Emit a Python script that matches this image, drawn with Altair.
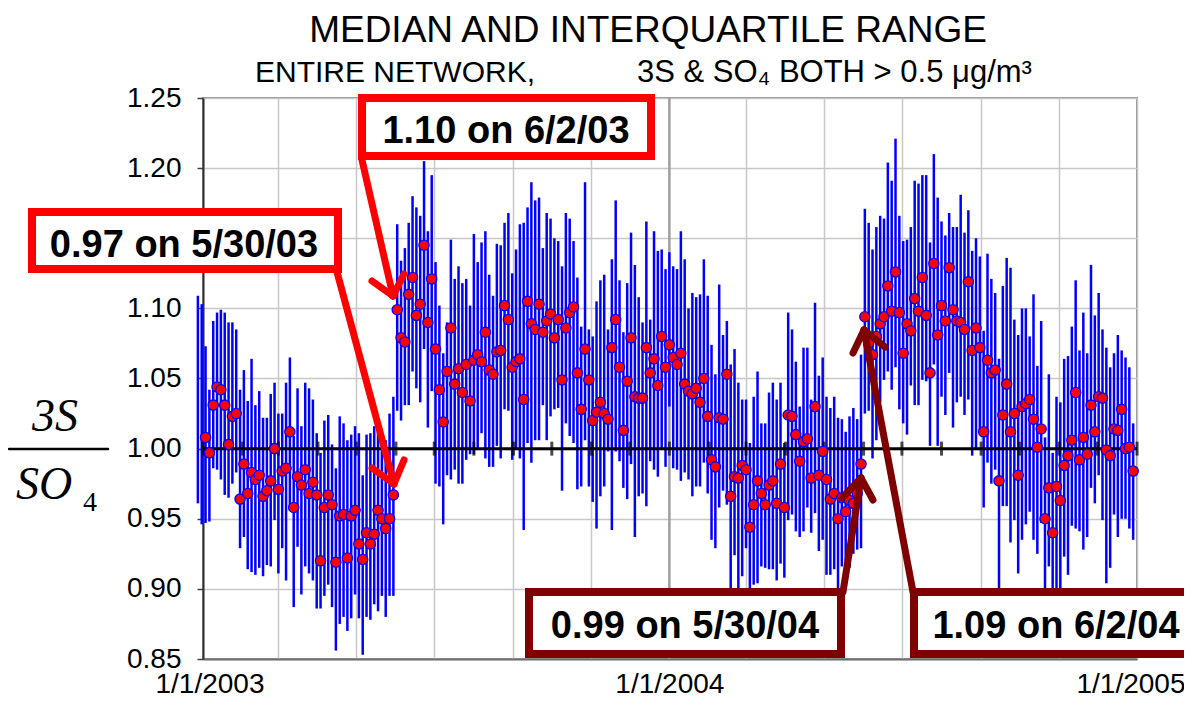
import altair as alt
import pandas as pd

# ---------------- data ----------------
# sampling every third day, 12/28/2002 .. 12/29/2004
dates = pd.date_range("2002-12-28", periods=245, freq="3D").strftime("%Y-%m-%d").tolist()

median = [
    None, None, 1.008, 0.997, 1.031, 1.044, 1.042, 1.031, 1.003, 1.023,
    1.025, 0.964, 0.989, 0.968, 0.983, 0.978, 0.981, 0.966, 0.970, 0.977,
    1.000, 0.971, 0.984, 0.986, 1.012, 0.958, 0.980, 0.974, 0.985, 0.968,
    0.976, 0.967, 0.920, 0.958, 0.967, 0.960, 0.919, 0.952, 0.953, 0.922,
    0.952, 0.956, 0.932, 0.921, 0.940, 0.932, 0.939, 0.956, 0.950, 0.943,
    0.950, 0.967, 1.099, 1.079, 1.076, 1.110, 1.122, 1.095, 1.103, 1.145,
    1.090, 1.121, 1.071, 1.042, 1.019, 1.055, 1.086, 1.046, 1.057, 1.040,
    1.060, 1.034, 1.063, 1.067, 1.062, 1.083, 1.056, 1.053, 1.069, 1.070,
    1.102, 1.092, 1.058, 1.062, 1.064, 1.035, 1.105, 1.089, 1.085, 1.103,
    1.083, 1.091, 1.096, 1.079, 1.092, 1.049, 1.086, 1.097, 1.101, 1.054,
    1.028, 1.071, 1.049, 1.020, 1.026, 1.033, 1.025, 1.021, 1.072, 1.092,
    1.058, 1.013, 1.048, 1.079, 1.037, 1.036, 1.036, 1.072, 1.054, 1.064,
    1.045, 1.080, 1.058, 1.074, 1.065, 1.060, 1.068, 1.046, 1.041, 1.039,
    1.043, 1.033, 1.050, 1.023, 0.992, 0.987, 1.022, 1.021, 1.053, 0.966,
    0.980, 0.979, 0.988, 0.985, 0.944, 0.960, 0.977, 0.968, 0.960, 0.974,
    0.977, 0.961, 0.989, 0.958, 1.024, 1.023, 1.010, 0.991, 1.005, 1.007,
    0.979, 1.030, 0.981, 0.998, 0.978, 0.964, 0.968, 0.950, 0.965, 0.955,
    0.963, 0.961, 0.968, 0.989, 1.094, 1.075, 1.067, 1.080, 1.089, 1.094,
    1.116, 1.098, 1.126, 1.097, 1.068, 1.089, 1.084, 1.107, 1.098, 1.122,
    1.095, 1.054, 1.132, 1.081, 1.102, 1.091, 1.129, 1.099, 1.091, 1.090,
    1.085, 1.119, 1.070, 1.086, 1.072, 1.012, 1.063, 1.054, 1.056, 0.977,
    1.024, 1.046, 1.012, 1.025, 0.981, 1.030, 1.032, 1.035, 1.021, 1.001,
    1.014, 0.950, 0.972, 0.940, 0.973, 0.963, 0.988, 0.995, 1.006, 1.040,
    0.992, 1.008, 0.996, 1.031, 1.012, 1.037, 1.036, 0.999, 0.995, 1.014,
    1.013, 1.028, 1.000, 1.001, 0.984,
]

q75 = [
    1.109, 1.103, 1.073, 1.042, 1.091, 1.097, 1.099, 1.097, 1.090, 1.090,
    1.085, 1.042, 1.056, 1.034, 1.064, 1.031, 1.041, 1.022, 1.022, 1.039,
    1.047, 1.025, 1.025, 1.047, 1.065, 1.009, 1.043, 1.016, 1.047, 1.043,
    1.035, 1.011, 0.997, 1.020, 1.024, 1.003, 0.986, 1.023, 1.018, 1.006,
    1.010, 1.016, 1.011, 0.981, 1.010, 1.011, 1.016, 1.014, 1.006, 1.006,
    1.025, 1.037, 1.160, 1.134, 1.143, 1.161, 1.180, 1.172, 1.166, 1.205,
    1.155, 1.195, 1.133, 1.102, 1.068, 1.090, 1.149, 1.121, 1.130, 1.118,
    1.121, 1.102, 1.153, 1.133, 1.147, 1.155, 1.124, 1.109, 1.146, 1.145,
    1.161, 1.168, 1.125, 1.142, 1.160, 1.161, 1.172, 1.190, 1.177, 1.179,
    1.143, 1.168, 1.164, 1.150, 1.148, 1.130, 1.168, 1.164, 1.148, 1.122,
    1.087, 1.190, 1.085, 1.080, 1.105, 1.120, 1.124, 1.085, 1.135, 1.177,
    1.120, 1.083, 1.118, 1.154, 1.131, 1.108, 1.090, 1.162, 1.092, 1.155,
    1.141, 1.142, 1.128, 1.140, 1.130, 1.128, 1.155, 1.135, 1.100, 1.111,
    1.108, 1.110, 1.135, 1.109, 1.074, 1.053, 1.117, 1.081, 1.091, 1.060,
    1.071, 1.047, 1.035, 1.035, 1.004, 1.037, 1.055, 1.018, 1.018, 1.040,
    1.047, 1.035, 1.047, 1.004, 1.097, 1.085, 1.062, 1.030, 1.072, 1.072,
    1.035, 1.104, 1.052, 1.065, 1.037, 1.029, 1.037, 1.022, 1.021, 1.012,
    1.023, 1.029, 1.021, 1.067, 1.171, 1.161, 1.142, 1.158, 1.166, 1.164,
    1.204, 1.191, 1.221, 1.166, 1.148, 1.149, 1.158, 1.191, 1.189, 1.195,
    1.195, 1.147, 1.210, 1.179, 1.162, 1.152, 1.168, 1.158, 1.158, 1.181,
    1.154, 1.170, 1.141, 1.150, 1.137, 1.084, 1.139, 1.121, 1.111, 1.064,
    1.116, 1.136, 1.129, 1.092, 1.081, 1.100, 1.100, 1.080, 1.110, 1.059,
    1.091, 1.008, 1.053, 0.997, 1.037, 1.033, 1.064, 1.066, 1.087, 1.120,
    1.070, 1.097, 1.068, 1.131, 1.095, 1.111, 1.085, 1.072, 1.058, 1.068,
    1.081, 1.070, 1.065, 1.058, 1.018,
]

q25 = [
    0.961, 0.946, 0.947, 0.948, 0.986, 0.985, 0.978, 0.967, 0.965, 0.975,
    0.983, 0.929, 0.937, 0.914, 0.912, 0.910, 0.915, 0.909, 0.917, 0.916,
    0.949, 0.911, 0.929, 0.906, 0.956, 0.887, 0.930, 0.896, 0.916, 0.911,
    0.906, 0.886, 0.886, 0.895, 0.903, 0.887, 0.856, 0.875, 0.880, 0.870,
    0.879, 0.896, 0.879, 0.853, 0.880, 0.878, 0.889, 0.884, 0.895, 0.880,
    0.895, 0.895, 1.027, 1.020, 1.031, 1.031, 1.055, 1.043, 1.033, 1.071,
    1.015, 1.041, 0.975, 0.973, 0.946, 0.981, 0.978, 0.985, 0.975, 0.975,
    0.992, 0.996, 0.996, 0.999, 1.011, 0.993, 0.987, 0.987, 1.002, 0.993,
    1.028, 1.027, 0.992, 0.999, 0.993, 0.942, 1.004, 0.990, 1.006, 1.006,
    1.031, 1.006, 1.023, 1.028, 1.029, 0.970, 1.018, 1.009, 1.004, 0.971,
    0.973, 1.006, 0.973, 0.962, 0.943, 0.966, 0.973, 0.998, 0.942, 0.998,
    0.991, 0.972, 0.964, 0.989, 0.937, 0.966, 0.968, 0.959, 0.991, 0.985,
    0.980, 0.999, 0.987, 1.030, 0.986, 0.985, 0.977, 0.983, 0.978, 0.966,
    0.973, 0.973, 0.990, 0.968, 0.935, 0.929, 0.958, 0.970, 0.960, 0.899,
    0.924, 0.899, 0.909, 0.929, 0.899, 0.903, 0.904, 0.916, 0.915, 0.914,
    0.914, 0.906, 0.918, 0.908, 0.949, 0.953, 0.941, 0.937, 0.941, 0.958,
    0.940, 0.954, 0.927, 0.935, 0.910, 0.910, 0.914, 0.898, 0.916, 0.918,
    0.915, 0.925, 0.928, 0.929, 1.025, 1.027, 0.993, 1.006, 1.033, 1.049,
    1.055, 1.042, 1.058, 1.028, 1.018, 1.010, 1.045, 1.031, 1.031, 1.049,
    1.048, 1.002, 1.060, 1.002, 1.037, 1.024, 1.054, 1.015, 1.033, 1.037,
    1.024, 1.035, 0.995, 0.999, 1.012, 0.958, 0.990, 0.975, 0.985, 0.880,
    0.959, 0.959, 0.933, 0.949, 0.911, 0.935, 0.946, 0.955, 0.935, 0.925,
    0.947, 0.895, 0.916, 0.890, 0.893, 0.895, 0.923, 0.910, 0.945, 0.943,
    0.941, 0.928, 0.937, 0.972, 0.961, 0.981, 0.949, 0.904, 0.915, 0.953,
    0.937, 0.950, 0.950, 0.943, 0.935,
]

month_starts = pd.date_range("2003-01-01", "2005-01-01", freq="MS").strftime("%Y-%m-%d").tolist()
y_ticks = [0.85, 0.90, 0.95, 1.00, 1.05, 1.10, 1.15, 1.20, 1.25]

df = pd.DataFrame({"date": dates, "median": median, "q25": q25, "q75": q75})

# ---------------- layout ----------------
W, H = 934, 561
OX, OY = 203, 98          # plot-area origin on the page
FONT = "Arial, Liberation Sans, sans-serif"

def px(x):
    return x - OX

def py(y):
    return y - OY

month_vals = [alt.DateTime(year=int(d[:4]), month=int(d[5:7]), date=1, utc=True) for d in month_starts]
x_scale = alt.Scale(type="utc", domain=[alt.DateTime(year=2003, month=1, date=1, utc=True),
                                        alt.DateTime(year=2005, month=1, date=1, utc=True)])
y_scale = alt.Scale(domain=[0.85, 1.25], nice=False, zero=False)

x_axis = alt.Axis(values=month_vals, grid=True, gridColor="#c8c8c8", gridWidth=1.5,
                  labelExpr="utcmonth(datum.value) == 0 ? utcFormat(datum.value, '%-m/%-d/%Y') : ''",
                  labelFont=FONT, labelFontSize=28, labelColor="black", labelPadding=11,
                  labelFlush=True, labelFlushOffset=48,
                  tickSize=0, domainColor="#707070", domainWidth=2, title=None, labelOverlap=False)
y_axis = alt.Axis(values=y_ticks, format=".2f", grid=True, gridColor="#c8c8c8", gridWidth=1.5,
                  labelFont=FONT, labelFontSize=28, labelColor="black", labelPadding=16,
                  tickSize=6, tickColor="#404040", tickWidth=1.5, domainColor="#303030",
                  domainWidth=2, title=None)

iqr = alt.Chart(df).mark_rule(color="#0000FF", strokeWidth=2.5).encode(
    x=alt.X("date:T", scale=x_scale, axis=x_axis),
    y=alt.Y("q25:Q", scale=y_scale, axis=y_axis),
    y2="q75:Q",
)

year_line = alt.Chart(pd.DataFrame({"date": ["2004-01-01"]})).mark_rule(
    color="#a0a0a0", strokeWidth=2.5).encode(x="date:T")

one_line = alt.Chart(pd.DataFrame({"v": [1.0]})).mark_rule(color="black", strokeWidth=3).encode(y="v:Q")

month_ticks = alt.Chart(pd.DataFrame({"date": month_starts, "v": [1.0] * len(month_starts)})).mark_tick(
    orient="vertical", color="black", thickness=3, size=14).encode(x="date:T", y="v:Q")

dots = alt.Chart(df).mark_point(shape="circle", filled=True, fill="#FF0000", stroke="#0000FF",
                                strokeWidth=1.3, size=105, opacity=1).encode(
    x="date:T", y="median:Q")

layers = [year_line, iqr, one_line, month_ticks, dots]
one = pd.DataFrame({"a": [0]})

def text(s, x, y, size, align="center", weight="normal", font=FONT, style="normal"):
    return alt.Chart(one).mark_text(text=s, align=align, baseline="alphabetic", fontSize=size,
                                    fontWeight=weight, font=font, fontStyle=style, color="black").encode(
        x=alt.value(px(x)), y=alt.value(py(y)))

def rule(x1, y1, x2, y2, color, width=7):
    return alt.Chart(one).mark_rule(color=color, strokeWidth=width, strokeCap="round").encode(
        x=alt.value(px(x1)), y=alt.value(py(y1)), x2=alt.value(px(x2)), y2=alt.value(py(y2)))

def box(x1, y1, x2, y2, color):
    return alt.Chart(one).mark_rect(fill="white", stroke=color, strokeWidth=8).encode(
        x=alt.value(px(x1)), y=alt.value(py(y1)), x2=alt.value(px(x2)), y2=alt.value(py(y2)))

RED, MAROON = "#FF0000", "#7F0000"

# callouts: box (page px), label, arrow (start, tip, wing1, wing2)
callouts = [
    ((32, 212, 338, 269), RED, "0.97 on 5/30/03", (184, 257),
     (337, 272), (394, 484), (372, 468), (404, 460)),
    ((362, 98, 651, 156), RED, "1.10 on 6/2/03", (506, 143),
     (362, 160), (393, 296), (372, 281), (404, 274)),
    ((529, 592, 841, 654), MAROON, "0.99 on 5/30/04", (685, 638),
     (843, 592), (861, 478), (842, 498), (873, 500)),
    ((914, 592, 1200, 654), MAROON, "1.09 on 6/2/04", (1056, 638),
     (913, 592), (864, 330), (853, 353), (885, 347)),
]

for (bx1, by1, bx2, by2), col, label, (tx, ty), s, t, w1, w2 in callouts:
    layers.append(rule(s[0], s[1], t[0], t[1], col))
    layers.append(rule(w1[0], w1[1], t[0], t[1], col))
    layers.append(rule(w2[0], w2[1], t[0], t[1], col))
for (bx1, by1, bx2, by2), col, label, (tx, ty), s, t, w1, w2 in callouts:
    layers.append(box(bx1, by1, bx2, by2, col))
    layers.append(text(label, tx, ty, 38, weight="bold"))

# titles
layers.append(text("MEDIAN AND INTERQUARTILE RANGE", 648, 42, 37))
layers.append(text("ENTIRE NETWORK,", 255, 82, 30, align="left"))
layers.append(text("3S & SO\u2084 BOTH > 0.5 \u03bcg/m\u00b3", 637, 82, 31, align="left"))

# y-axis title as a fraction 3S / SO4
SERIF = "Times New Roman, Liberation Serif, serif"
layers.append(text("3S", 55, 431, 46, font=SERIF, style="italic"))
layers.append(rule(9, 449, 108, 449, "black", width=2.5))
layers.append(text("SO", 44, 499, 46, font=SERIF, style="italic"))
layers.append(text("4", 90, 511, 28, font=SERIF))

chart = alt.layer(*layers).properties(
    width=W, height=H,
    padding={"left": OX - 8, "top": OY - 8, "right": 1176 - (OX - 8) - W, "bottom": 690 - (OY - 8) - H},
    autosize=alt.AutoSizeParams(type="none"),
).configure_view(stroke="#909090", strokeWidth=2)

chart.save("out.html", embed_options={"renderer": "svg", "actions": False})
